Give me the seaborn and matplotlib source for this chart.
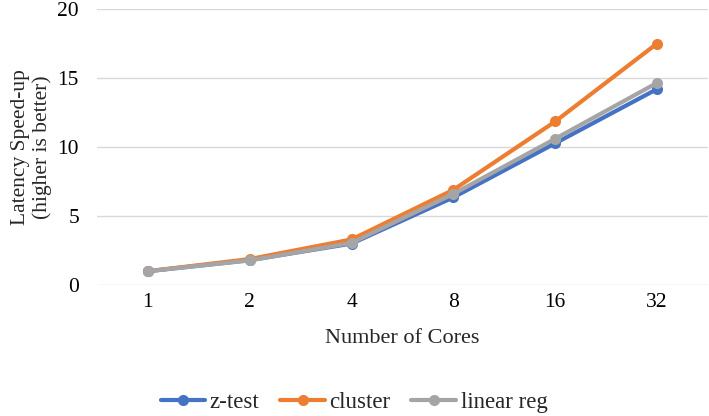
import matplotlib
matplotlib.use("Agg")
import matplotlib.pyplot as plt
import seaborn as sns
import pandas as pd

cores = ["1", "2", "4", "8", "16", "32"]
z_test = [1.0, 1.8, 3.0, 6.35, 10.27, 14.2]
cluster = [1.0, 1.88, 3.3, 6.9, 11.85, 17.5]
linear_reg = [1.0, 1.78, 3.05, 6.6, 10.6, 14.65]
series_names = ["z-test", "cluster", "linear reg"]
colors = ["#4472C4", "#ED7D31", "#A5A5A5"]

rows = []
for name, vals in zip(series_names, [z_test, cluster, linear_reg]):
    for c, v in zip(cores, vals):
        rows.append({"cores": c, "speedup": v, "series": name})
df = pd.DataFrame(rows)

sns.set_style("white")
plt.rcParams["font.family"] = ["Liberation Serif", "DejaVu Serif"]

fig = plt.figure(figsize=(7.09, 4.16), dpi=100)
ax = fig.add_axes([97/709, 1-285/416, (708-97)/709, (285-9)/416])

sns.lineplot(data=df, x="cores", y="speedup", hue="series", hue_order=series_names,
             palette=colors, marker="o", markersize=8, markeredgewidth=0,
             linewidth=3, sort=False, ax=ax, legend=True)

ax.set_ylim(0, 20)
ax.set_yticks([0, 5, 10, 15, 20])
ax.set_xlim(-0.5, 5.5)
ax.yaxis.grid(True, color="#D9D9D9", linewidth=1)
ax.set_axisbelow(True)
for s in ax.spines.values():
    s.set_visible(False)
ax.tick_params(axis="both", length=0, labelsize=15.5, colors="#000000")
ax.tick_params(axis="y", pad=13)
ax.tick_params(axis="x", pad=6)
ax.set_xlabel("Number of Cores", fontsize=16, labelpad=12)
ax.set_ylabel("Latency Speed-up\n(higher is better)", fontsize=15.5, labelpad=4, linespacing=1.15)

handles, labels = ax.get_legend_handles_labels()
ax.get_legend().remove()
fig.legend(handles, labels, loc="center", bbox_to_anchor=(354/709, 1-402/416), ncol=3,
           frameon=False, fontsize=16.5, handlelength=1.95, columnspacing=0.9, handletextpad=0.2)

fig.savefig("out.png", dpi=100)
